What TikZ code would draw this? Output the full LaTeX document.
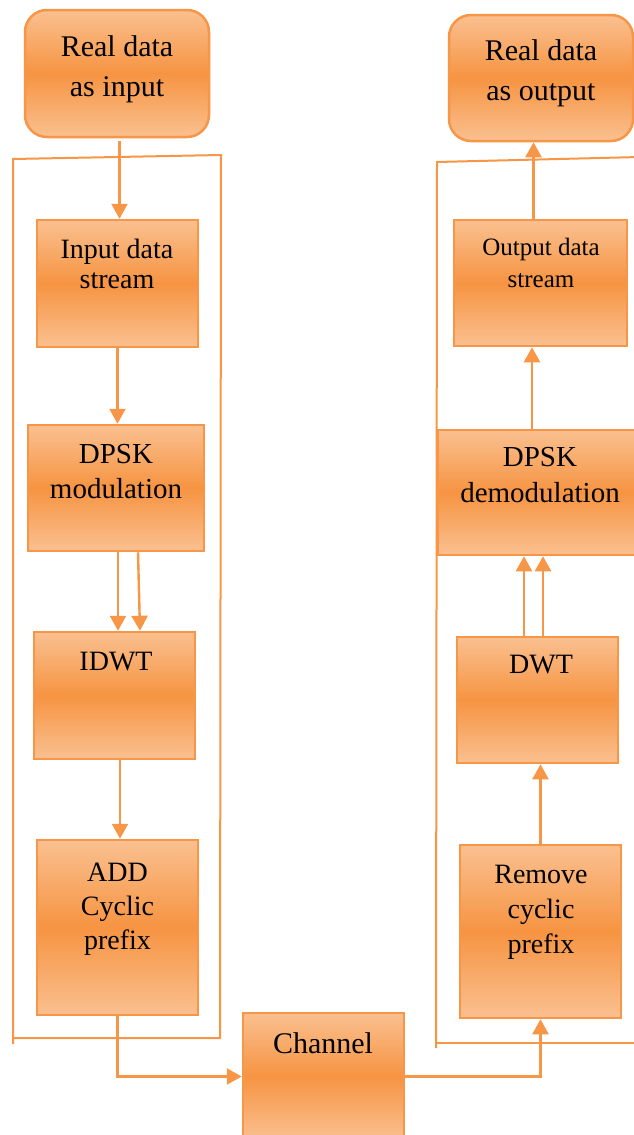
\documentclass[tikz,border=0pt]{standalone}
\usepackage{fontspec}
\setmainfont{Liberation Serif}
\usetikzlibrary{arrows.meta,calc}
\definecolor{ob}{RGB}{247,150,70}
\definecolor{ol}{RGB}{250,192,144}
\definecolor{om}{RGB}{246,148,66}
\newcommand{\txt}[3]{{\fontsize{#1}{#2}\selectfont\setlength{\tabcolsep}{0pt}\begin{tabular}[t]{c}#3\end{tabular}}}
\begin{document}
\begin{tikzpicture}[x=1pt,y=-1pt,
  box/.style={draw=ob, line width=2.5pt, top color=ol, bottom color=ol, middle color=om, inner sep=0pt},
  rbox/.style={box, rounded corners=22pt},
  frame/.style={draw=ob, line width=2pt},
  conn/.style={draw=ob, line width=2.4pt},
  arr/.style={conn, -{Triangle[width=16pt,length=15pt]}},
  lbl/.style={anchor=base, inner sep=0pt, text=black}]
\path[use as bounding box, clip] (0,0) rectangle (634,1135);

% frames
\draw[frame] (13,1044) -- (13,159) -- (221,155) -- (220,1038) -- (12,1038);
\draw[frame] (436,1048) -- (437,162) -- (640,157);
\draw[frame] (437,1043) -- (640,1043);

% left column
\node[rbox, minimum width=184pt, minimum height=127pt] (rin) at (117,73.5) {};
\node[box, minimum width=161pt, minimum height=127pt] (ids) at (117.5,283.5) {};
\node[box, minimum width=176pt, minimum height=126pt] (dmod) at (116,488) {};
\node[box, minimum width=161pt, minimum height=127pt] (idwt) at (114.5,695.5) {};
\node[box, minimum width=161pt, minimum height=175pt] (add) at (117.5,927.5) {};
\node[box, minimum width=161pt, minimum height=127pt] (chan) at (323.5,1076.5) {};

% right column
\node[rbox, minimum width=184pt, minimum height=126pt] (rout) at (541,78) {};
\node[box, minimum width=173pt, minimum height=126pt] (ods) at (540.5,283) {};
\node[box, minimum width=204pt, minimum height=125pt] (demod) at (540,492.5) {};
\node[box, minimum width=161pt, minimum height=126pt] (odwt) at (537.5,700) {};
\node[box, minimum width=161pt, minimum height=173pt] (rcp) at (540.5,931.5) {};

% labels
\node[lbl] (trin) at (117,56) {\txt{30}{40}{Real data\\as input}};
\node[lbl] (tids) at (117,258) {\txt{28}{30}{Input data\\stream}};
\node[lbl] (tdmod) at (116,463) {\txt{29}{35}{DPSK\\modulation}};
\node[lbl] (tidwt) at (116,670) {\txt{28}{34}{IDWT}};
\node[lbl] (tadd) at (117.5,881) {\txt{28}{34}{ADD\\Cyclic\\prefix}};
\node[lbl] (tchan) at (323,1053) {\txt{30}{36}{Channel}};
\node[lbl] (trcp) at (541,883) {\txt{28}{35}{Remove\\cyclic\\prefix}};
\node[lbl] (todwt) at (541,673) {\txt{28}{34}{DWT}};
\node[lbl] (tdemod) at (540,466) {\txt{29}{36}{DPSK\\demodulation}};
\node[lbl] (tods) at (541,255) {\txt{25}{32}{Output data\\stream}};
\node[lbl] (trout) at (541,60) {\txt{30}{40}{Real data\\as output}};

% connectors, left
\draw[arr] ($(ids.north |- rin.south)+(2,3)$) -- ($(ids.north)+(2,0)$);
\draw[arr] (ids.south) -- (ids.south |- dmod.north);
\draw[arr] ($(dmod.south)+(2,0)$) -- ($(dmod.south |- idwt.north)+(2,0)$);
\draw[arr] ($(dmod.south)+(22,0)$) -- ($(idwt.north)+(25.5,0)$);
\draw[arr] ($(idwt.south)+(5.5,0)$) -- ($(idwt.south |- add.north)+(5.5,0)$);
\draw[arr] (add.south) |- (chan.west);
% connectors, right
\draw[arr] (chan.east) -| (rcp.south);
\draw[arr] (rcp.north) -- (rcp.north |- odwt.south);
\draw[arr] ($(odwt.north)+(-13.5,0)$) -- ($(odwt.north |- demod.south)+(-13.5,0)$);
\draw[arr] ($(odwt.north)+(5.5,0)$) -- ($(odwt.north |- demod.south)+(5.5,0)$);
\draw[arr] ($(demod.north)+(-8,0)$) -- ($(demod.north |- ods.south)+(-8,0)$);
\draw[arr] ($(ods.north)+(-7,0)$) -- ($(ods.north |- rout.south)+(-7,0)$);
\end{tikzpicture}
\end{document}
